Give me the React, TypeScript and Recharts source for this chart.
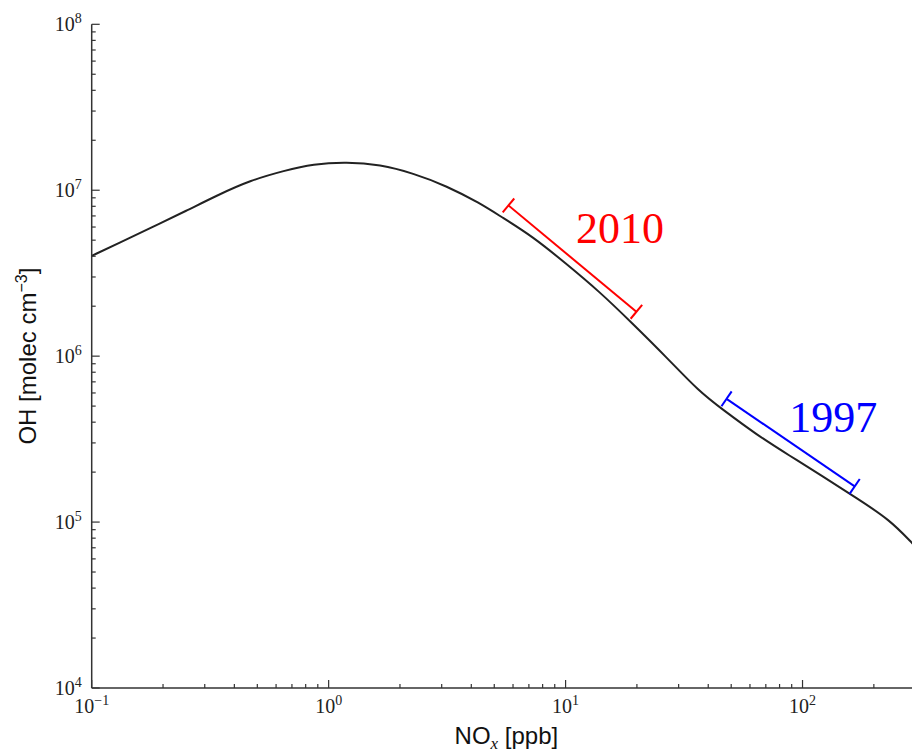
import React from 'react';
import { LineChart, Line, XAxis, YAxis, ReferenceLine, ReferenceDot } from 'recharts';

// NOx [ppb] vs OH [molec cm^-3]
const noxValues = [
  0.1, 0.13, 0.18, 0.25, 0.34, 0.47, 0.65, 0.86, 1.19, 1.65, 2.27, 3.15, 4.35, 5.28, 7.28,
  10, 13.9, 19.1, 26.5, 36.6, 46.2, 64, 88.4, 122, 169, 234, 289, 316,
];
const ohValues = [
  4.02e6, 4.8e6, 5.99e6, 7.5e6, 9.35e6, 1.15e7, 1.312e7, 1.44e7, 1.48e7, 1.427e7, 1.266e7, 1.061e7, 8.35e6, 7.0e6, 5.25e6,
  3.63e6, 2.45e6, 1.58e6, 9.94e5, 6.12e5, 4.75e5, 3.36e5, 2.51e5, 1.88e5, 1.395e5, 1.03e5, 7.5e4, 6.6e4,
];

const xTicks = [
  0.1, 0.2, 0.3, 0.4, 0.5, 0.6, 0.7, 0.8, 0.9,
  1, 2, 3, 4, 5, 6, 7, 8, 9,
  10, 20, 30, 40, 50, 60, 70, 80, 90,
  100, 200, 300,
];
const yTicks = [
  1e4, 2e4, 3e4, 4e4, 5e4, 6e4, 7e4, 8e4, 9e4,
  1e5, 2e5, 3e5, 4e5, 5e5, 6e5, 7e5, 8e5, 9e5,
  1e6, 2e6, 3e6, 4e6, 5e6, 6e6, 7e6, 8e6, 9e6,
  1e7, 2e7, 3e7, 4e7, 5e7, 6e7, 7e7, 8e7, 9e7,
  1e8,
];

// period bars drawn next to the curve
const bar2010 = [{ x: 5.74, y: 8.1e6 }, { x: 19.9, y: 1.85e6 }];
const bar1997 = [{ x: 47.8, y: 5.53e5 }, { x: 166, y: 1.64e5 }];
const label2010 = { x: 11.06, y: 4.83e6, text: '2010' };
const label1997 = { x: 87.8, y: 3.51e5, text: '1997' };

const data = noxValues.map((nox, i) => ({ nox, oh: ohValues[i] }));

const AXIS = '#333';
const TICK_FONT = '"Liberation Serif", "Times New Roman", serif';
const LABEL_FONT = '"Liberation Sans", Arial, sans-serif';

const isMajor = (v: number) => Math.abs(Math.log10(v) - Math.round(Math.log10(v))) < 1e-6;

const expLabel = (v: number) => {
  const e = Math.round(Math.log10(v));
  return e < 0 ? `\u2212${-e}` : `${e}`;
};

const PowerText = ({ x, y, anchor, v }: any) => (
  <text x={x} y={y} textAnchor={anchor} fontFamily={TICK_FONT} fontSize={20} fill="#222">
    <tspan>10</tspan>
    <tspan dy={-8} fontSize={14}>{expLabel(v)}</tspan>
  </text>
);

const BottomTick = (props: any) => {
  const { x, y, payload } = props;
  const major = isMajor(payload.value);
  return (
    <g>
      <line x1={x} x2={x} y1={y} y2={y - (major ? 8 : 4)} stroke={AXIS} strokeWidth={1.2} />
      {major && <PowerText x={x} y={y + 25} anchor="middle" v={payload.value} />}
    </g>
  );
};

const TopTick = (props: any) => {
  const { x, y, payload } = props;
  const major = isMajor(payload.value);
  return <line x1={x} x2={x} y1={y} y2={y + (major ? 8 : 4)} stroke={AXIS} strokeWidth={1.2} />;
};

const LeftTick = (props: any) => {
  const { x, y, payload } = props;
  const major = isMajor(payload.value);
  return (
    <g>
      <line x1={x} x2={x + (major ? 8 : 4)} y1={y} y2={y} stroke={AXIS} strokeWidth={1.2} />
      {major && <PowerText x={x - 10} y={y + 7} anchor="end" v={payload.value} />}
    </g>
  );
};

const RightTick = (props: any) => {
  const { x, y, payload } = props;
  const major = isMajor(payload.value);
  return <line x1={x} x2={x - (major ? 8 : 4)} y1={y} y2={y} stroke={AXIS} strokeWidth={1.2} />;
};

// line with perpendicular end caps
const cappedBar = (color: string) => (props: any) => {
  const { x1, y1, x2, y2 } = props;
  const len = Math.hypot(x2 - x1, y2 - y1) || 1;
  const nx = (-(y2 - y1) / len) * 9;
  const ny = ((x2 - x1) / len) * 9;
  return (
    <g stroke={color} strokeWidth={2} fill="none">
      <line x1={x1} y1={y1} x2={x2} y2={y2} />
      <line x1={x1 - nx} y1={y1 - ny} x2={x1 + nx} y2={y1 + ny} />
      <line x1={x2 - nx} y1={y2 - ny} x2={x2 + nx} y2={y2 + ny} />
    </g>
  );
};

const yearText = (color: string, text: string) => (props: any) => (
  <text x={props.cx} y={props.cy} fill={color} fontFamily={TICK_FONT} fontSize={44}>
    {text}
  </text>
);

const XLabel = (props: any) => {
  const { x, y, width } = props.viewBox;
  return (
    <text x={x + width / 2} y={y + 56} textAnchor="middle" fontFamily={LABEL_FONT} fontSize={24} fill="#111">
      <tspan>NO</tspan>
      <tspan dy={5} fontSize={17} fontStyle="italic" fontFamily={TICK_FONT}>x</tspan>
      <tspan dy={-5}> [ppb]</tspan>
    </text>
  );
};

const YLabel = (props: any) => {
  const { y, height } = props.viewBox;
  const cx = 36;
  const cy = y + height / 2;
  return (
    <text x={cx} y={cy} transform={`rotate(-90 ${cx} ${cy})`} textAnchor="middle" fontFamily={LABEL_FONT} fontSize={24} fill="#111">
      <tspan>OH [molec cm</tspan>
      <tspan dy={-9} fontSize={16}>{'\u22123'}</tspan>
      <tspan dy={9}>]</tspan>
    </text>
  );
};

export default function App() {
  return (
    <div style={{ position: 'absolute', left: 0, top: 0, width: 912, height: 753, overflow: 'hidden', background: '#fff' }}>
      <LineChart width={930} height={753} data={data} margin={{ top: 24.3, right: 9, bottom: 0, left: 0 }}>
        <XAxis
          xAxisId="b"
          dataKey="nox"
          type="number"
          scale="log"
          domain={[0.1, 316.23]}
          allowDataOverflow
          ticks={xTicks}
          interval={0}
          tick={<BottomTick />}
          tickLine={false}
          tickSize={0}
          tickMargin={0}
          height={65}
          axisLine={{ stroke: AXIS, strokeWidth: 1.5 }}
          label={{ content: <XLabel /> }}
        />
        <XAxis
          xAxisId="t"
          orientation="top"
          dataKey="nox"
          type="number"
          scale="log"
          domain={[0.1, 316.23]}
          allowDataOverflow
          ticks={xTicks}
          interval={0}
          tick={<TopTick />}
          tickLine={false}
          tickSize={0}
          tickMargin={0}
          height={0}
          axisLine={{ stroke: AXIS, strokeWidth: 1.5 }}
        />
        <YAxis
          yAxisId="l"
          type="number"
          scale="log"
          domain={[1e4, 1e8]}
          allowDataOverflow
          ticks={yTicks}
          interval={0}
          tick={<LeftTick />}
          tickLine={false}
          tickSize={0}
          tickMargin={0}
          width={91.7}
          axisLine={{ stroke: AXIS, strokeWidth: 1.5 }}
          label={{ content: <YLabel /> }}
        />
        <YAxis
          yAxisId="r"
          orientation="right"
          type="number"
          scale="log"
          domain={[1e4, 1e8]}
          allowDataOverflow
          ticks={yTicks}
          interval={0}
          tick={<RightTick />}
          tickLine={false}
          tickSize={0}
          tickMargin={0}
          width={0}
          axisLine={{ stroke: AXIS, strokeWidth: 1.5 }}
        />
        <Line
          xAxisId="b"
          yAxisId="l"
          type="basis"
          dataKey="oh"
          stroke="#222"
          strokeWidth={2}
          dot={false}
          isAnimationActive={false}
        />
        <ReferenceLine xAxisId="b" yAxisId="l" segment={bar2010} shape={cappedBar('#ff0000')} />
        <ReferenceLine xAxisId="b" yAxisId="l" segment={bar1997} shape={cappedBar('#0000ff')} />
        <ReferenceDot xAxisId="b" yAxisId="l" x={label2010.x} y={label2010.y} r={0} shape={yearText('#ff0000', label2010.text)} />
        <ReferenceDot xAxisId="b" yAxisId="l" x={label1997.x} y={label1997.y} r={0} shape={yearText('#0000ff', label1997.text)} />
      </LineChart>
    </div>
  );
}
